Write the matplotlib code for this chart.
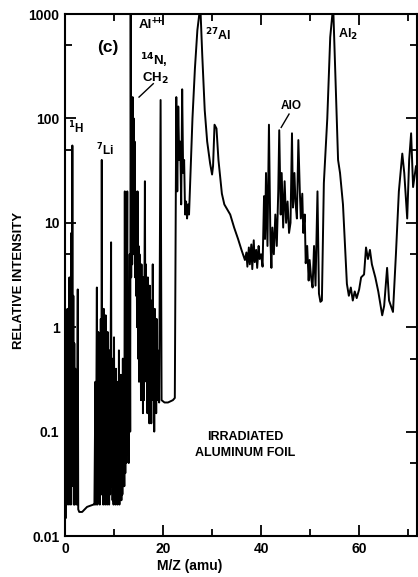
import numpy as np
import matplotlib.pyplot as plt
from matplotlib.ticker import FixedLocator, NullFormatter

plt.rcParams['font.family'] = ['Liberation Sans', 'DejaVu Sans']
plt.rcParams['font.weight'] = 'bold'

# spectrum trace: m/z (amu) and relative intensity
mz = [0.2, 0.3, 0.4, 0.5, 0.6, 0.7, 0.8, 0.9, 1.0, 1.1, 1.2, 1.3, 1.4, 1.5,
      1.6, 1.7, 1.8, 1.9, 2.0, 2.1, 2.2, 2.3, 2.4, 2.6, 2.7, 2.9, 3.5, 4.5,
      5.8,
      6.0, 6.2, 6.3, 6.5, 6.6, 6.8, 6.9, 7.0, 7.1, 7.3, 7.4, 7.5, 7.6, 7.7,
      7.8, 7.9, 8.0, 8.1, 8.2, 8.3, 8.4, 8.5, 8.6, 8.7, 8.8, 8.9, 9.0, 9.1,
      9.2, 9.4, 9.5, 9.6, 9.7, 9.8, 9.9, 10.0, 10.1, 10.2, 10.3, 10.4, 10.5,
      10.6, 10.7, 10.8, 10.9, 11.0, 11.1, 11.2, 11.3, 11.4, 11.5, 11.6, 11.7,
      11.8, 11.9, 12.0, 12.1, 12.2, 12.3, 12.4, 12.5, 12.7, 12.8, 12.9, 13.0,
      13.2, 13.3,
      13.4, 13.5, 13.6, 13.7, 13.8, 13.9, 14.0, 14.1, 14.2, 14.3, 14.4, 14.5,
      14.6, 14.7, 14.8, 14.9, 15.0, 15.1, 15.2, 15.3, 15.4, 15.5, 15.6, 15.7,
      15.8, 15.9, 16.0, 16.1, 16.3, 16.4, 16.5, 16.6, 16.7, 16.8, 16.9, 17.0,
      17.1, 17.2, 17.3, 17.4, 17.5, 17.6, 17.7, 17.8, 17.9, 18.0, 18.1, 18.2,
      18.3, 18.4, 18.5, 18.6, 18.7, 18.8, 18.9, 19.0, 19.1, 19.2, 19.5, 19.7,
      20.3, 21.0, 22.0, 22.4,
      22.7, 22.9, 23.1, 23.3, 23.5, 23.7, 23.9, 24.1, 24.3, 24.5, 24.7, 24.9,
      25.1, 25.3, 25.6, 26.0, 26.5, 27.0, 27.6, 28.0, 28.5, 29.0, 29.6, 30.0,
      30.2, 30.5, 30.9, 31.3, 32.0, 32.5, 33.7, 34.5, 35.3, 36.0, 36.7,
      37.0, 37.2, 37.5, 37.7, 38.0, 38.2, 38.5, 38.7, 39.0, 39.2, 39.5, 39.7,
      40.0, 40.3, 40.6, 40.8, 41.0, 41.3, 41.6, 41.9, 42.1, 42.3, 42.6, 42.9,
      43.2, 43.5, 43.7, 44.0, 44.2, 44.5, 44.8, 45.1, 45.4, 45.7, 46.0, 46.3,
      46.5, 46.8, 47.0, 47.3, 47.6, 47.9, 48.1, 48.4, 48.6, 48.9, 49.1, 49.4,
      49.7, 49.9, 50.2, 50.5, 50.8, 51.1, 51.5, 51.8, 52.1, 52.4, 52.8, 53.5,
      54.1, 54.7,
      55.3, 55.7, 56.1, 56.7, 57.5, 57.9, 58.3, 58.7, 59.1, 59.5, 60.0, 60.4,
      61.0, 61.4, 61.8, 62.2, 62.6, 63.3, 63.9, 64.7, 65.1, 65.7, 66.1, 66.9,
      67.5, 68.1, 68.8, 69.2, 69.8, 70.2, 70.6, 71.0, 71.6, 71.8]
intensity = [0.015, 0.8, 0.02, 1.5, 0.03, 0.4, 0.02, 3, 0.03, 0.9, 0.02, 8,
             0.03, 55,
             0.05, 2, 0.02, 0.7, 0.02, 0.4, 0.03, 0.3, 0.02, 2.3, 0.018, 0.017,
             0.017, 0.019,
             0.02,
             0.02, 0.3, 0.02, 2.4, 0.02, 0.9, 0.025, 0.5, 0.02, 1.2, 0.025, 40,
             0.03, 0.8,
             0.02, 1.5, 0.025, 0.6, 0.02, 1.3, 0.022, 0.4, 0.02, 0.9, 0.025,
             0.3, 0.02, 0.6,
             0.025, 6.5, 0.03, 0.5, 0.022, 0.25, 0.02, 0.8, 0.025, 0.15, 0.02,
             0.4, 0.022,
             0.3, 0.02, 0.12, 0.025, 0.6, 0.02, 0.2, 0.025, 0.35, 0.022, 0.15,
             0.025,
             0.5, 0.03, 0.2, 0.03, 20, 0.04, 1, 0.05, 20, 0.06, 0.4, 0.05,
             5, 0.1,
             1200, 3, 150, 4, 160, 5, 100, 6, 60, 3, 20, 2,
             8, 1, 20, 0.5, 6, 0.3, 5, 0.4, 3, 0.2, 4, 0.3,
             2, 0.15, 3, 0.2, 25, 0.5, 4, 0.3, 2, 0.15, 3, 0.2,
             1.5, 0.12, 2.5, 0.3, 1, 0.12, 1.8, 0.3, 4, 0.2, 1.2, 0.1,
             1.5, 0.25, 0.8, 0.15, 1.2, 0.3, 0.6, 0.2, 0.5, 0.19, 150, 0.2,
             0.19, 0.19, 0.2, 0.21,
             160, 20, 130, 40, 60, 15, 190, 30, 40, 12, 16, 11,
             15, 12, 30, 100, 300, 700, 1200, 400, 120, 60, 37, 29,
             35, 87, 80, 40, 19, 15, 12, 9, 7, 5.5, 4.4,
             5.2, 3.8, 5.8, 4.0, 6.2, 3.6, 6.8, 4.2, 5.5, 3.7, 6.0, 4.5,
             5.0, 3.8, 18, 7, 30, 6, 87, 6.8, 3.7, 9, 5, 12,
             6, 20, 77, 12, 30, 9, 25, 10, 16, 8, 10, 72,
             14, 30, 16, 11, 62, 20, 11, 19, 8, 12, 4.1, 6,
             2.8, 4.4, 3.0, 2.4, 6, 2.5, 20, 2.1, 1.75, 1.8, 24, 100,
             600, 1200,
             150, 40, 30, 15, 2.6, 2.0, 2.4, 1.8, 2.2, 1.9, 2.3, 3.0,
             3.2, 5.8, 4.5, 5.5, 4.0, 3.0, 2.2, 1.3, 1.6, 3.7, 1.8, 1.4,
             5, 20, 46, 30, 11, 40, 72, 22, 35, 30]

ytick_vals = [0.01, 0.1, 1, 10, 100, 1000]
ytick_labels = ['0.01', '0.1', '1', '10', '100', '1000']
yminor_vals = [0.05, 0.5, 5, 50, 500]
xtick_vals = [0, 20, 40, 60]
xminor_vals = [10, 30, 50, 70]

fig = plt.figure(figsize=(4.18, 5.77), dpi=100)
ax = fig.add_axes([65 / 418, 41 / 577, 352 / 418, 522 / 577])

ax.plot(mz, intensity, color='black', lw=1.4)

ax.set_yscale('log')
ax.set_xlim(0, 71.8)
ax.set_ylim(0.01, 1000)

ax.yaxis.set_major_locator(FixedLocator(ytick_vals))
ax.set_yticklabels(ytick_labels, fontweight='bold')
ax.yaxis.set_minor_locator(FixedLocator(yminor_vals))
ax.yaxis.set_minor_formatter(NullFormatter())
ax.set_xticks(xtick_vals)
ax.set_xticklabels([str(v) for v in xtick_vals], fontweight='bold')
ax.set_xticks(xminor_vals, minor=True)

ax.tick_params(which='both', direction='in', top=True, right=True,
               width=1.3, labelsize=10)
ax.tick_params(which='major', length=8, pad=4)
ax.tick_params(which='minor', length=5)
for s in ax.spines.values():
    s.set_linewidth(1.5)

ax.set_ylabel('RELATIVE INTENSITY', fontsize=9.5, fontweight='bold')
ax.yaxis.set_label_coords(-0.115, 0.49)
fig.text(190 / 418, 1 - 566 / 577, 'M/Z (amu)', ha='center', va='center',
         fontsize=10, fontweight='bold')

# labels
ax.text(15.0, 780, 'Al', fontsize=9.5, fontweight='bold', va='center')
ax.text(17.7, 860, '++', fontsize=7, fontweight='bold', va='center')
ax.text(8.8, 480, '(c)', fontsize=12.5, fontweight='bold', ha='center', va='center')
ax.text(15.3, 360, '$\\mathbf{^{14}}$N,', fontsize=9.5, fontweight='bold', va='center')
ax.text(15.8, 240, 'CH$_\\mathbf{2}$', fontsize=9.5, fontweight='bold', va='center')
ax.plot([18.0, 15.1], [215, 160], color='black', lw=1)
ax.text(0.7, 81, '$\\mathbf{^1}$H', fontsize=8.5, fontweight='bold', va='center')
ax.text(6.3, 50, '$\\mathbf{^7}$Li', fontsize=8.5, fontweight='bold', va='center')
ax.text(28.6, 630, '$\\mathbf{^{27}}$Al', fontsize=9, fontweight='bold', va='center')
ax.text(44.1, 131, 'AlO', fontsize=8.5, fontweight='bold', va='center')
ax.plot([45.7, 44.1], [110, 82], color='black', lw=1)
ax.text(55.7, 630, 'Al$_\\mathbf{2}$', fontsize=9, fontweight='bold', va='center')
ax.text(36.7, 0.074, 'IRRADIATED\nALUMINUM FOIL', fontsize=9, fontweight='bold',
        ha='center', va='center', linespacing=1.4)

fig.savefig('out.png', dpi=100)
